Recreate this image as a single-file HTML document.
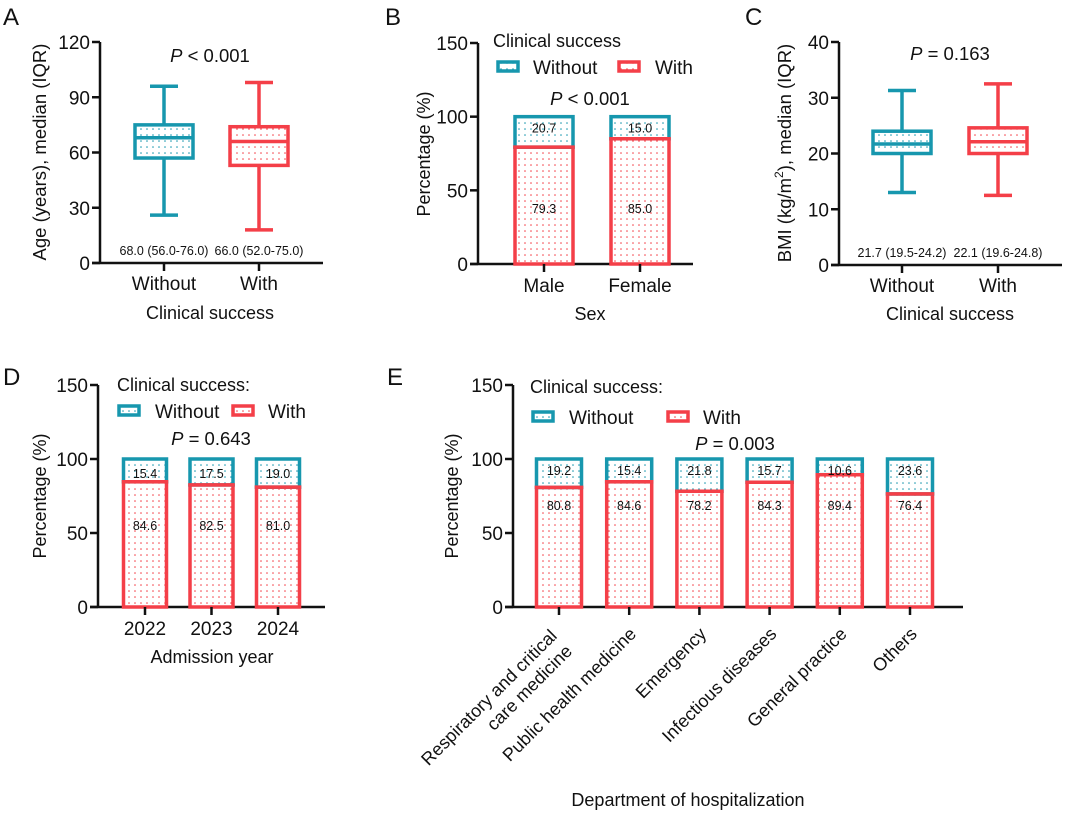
<!DOCTYPE html>
<html><head><meta charset="utf-8"><style>
body{margin:0;background:#fff;}
svg{display:block;font-family:"Liberation Sans",Arial,sans-serif;}
</style></head><body>
<svg id="fig" width="1065" height="813" viewBox="0 0 1065 813" xmlns="http://www.w3.org/2000/svg">
<defs>
<pattern id="dotT" width="6" height="6" patternUnits="userSpaceOnUse"><rect width="6" height="6" fill="#fff"/><circle cx="3" cy="3" r="0.8" fill="#1797ae"/></pattern>
<pattern id="dotR" width="6" height="6" patternUnits="userSpaceOnUse"><rect width="6" height="6" fill="#fff"/><circle cx="3" cy="3" r="0.8" fill="#f43f48"/></pattern>
</defs>
</svg>
<script>
// Panel A data
const aGroups=["Without","With"];
const aMin=[26,18],aQ1=[57,53],aMed=[68,66],aQ3=[75,74],aMax=[96,98];
const aLabels=["68.0 (56.0-76.0)","66.0 (52.0-75.0)"];
const aTicks=[0,30,60,90,120];
// Panel C data
const cGroups=["Without","With"];
const cMin=[13,12.5],cQ1=[20,20],cMed=[21.7,22.1],cQ3=[24,24.6],cMax=[31.3,32.5];
const cLabels=["21.7 (19.5-24.2)","22.1 (19.6-24.8)"];
const cTicks=[0,10,20,30,40];
// Panel B data
const bCats=["Male","Female"];
const bWith=[79.3,85.0];
const bWithout=[20.7,15.0];
// Panel D data
const dCats=["2022","2023","2024"];
const dWith=[84.6,82.5,81.0];
const dWithout=[15.4,17.5,19.0];
// Panel E data
const eCats=[["Respiratory and critical","care medicine"],["Public health medicine"],["Emergency"],["Infectious diseases"],["General practice"],["Others"]];
const eWith=[80.8,84.6,78.2,84.3,89.4,76.4];
const eWithout=[19.2,15.4,21.8,15.7,10.6,23.6];
const pctTicks=[0,50,100,150];

const T="#1797ae",R="#f43f48";
const svg=document.getElementById('fig');
const NS="http://www.w3.org/2000/svg";
function el(tag,attrs,parent){const e=document.createElementNS(NS,tag);for(const k in attrs)e.setAttribute(k,attrs[k]);(parent||svg).appendChild(e);return e;}
function txt(s,x,y,size,anchor,parent,extra){const t=el('text',Object.assign({x:x,y:y,'font-size':size,'text-anchor':anchor||'middle',fill:'#111'},extra||{}),parent);t.textContent=s;return t;}

function axes(g,x0,x1,y0,yTop,ticks,maxV){
  const ys=v=>y0-(v/maxV)*(y0-yTop);
  const ax=el('g',{},g);
  
  
  el('line',{x1:x0,y1:y0+1,x2:x0,y2:yTop,stroke:'#111','stroke-width':2.5},ax);
  el('line',{x1:x0-8,y1:y0,x2:x1,y2:y0,stroke:'#111','stroke-width':2.5},ax);
  ticks.forEach(v=>{
    el('line',{x1:x0-8,y1:ys(v),x2:x0,y2:ys(v),stroke:'#111','stroke-width':2.5},ax);
    const t=txt(String(v),x0-10,ys(v)+7,19,'end',ax);
    
    
  });
  return ys;
}
function panelLetter(s,x,y){const t=txt(s,x,y,24,'start');}
function ytitle(s,x,y,g,sz){const t=txt(s,x,y,sz||17,'middle',g,{transform:`rotate(-90 ${x} ${y})`});return t;}
function xtitle(s,x,y,g){const t=txt(s,x,y,18,'middle',g);}
function pval(op,val,x,y,g){const t=el('text',{x:x,y:y,'font-size':18.5,'text-anchor':'middle',fill:'#111'},g);t.innerHTML=`<tspan font-style="italic">P</tspan> ${op} ${val}`;}

function boxPanel(name,groups,mn,q1,md,q3,mx,labels,ticks,cfg){
  const g=el('g',{});
  
  
  const ys=axes(g,cfg.x0,cfg.x1,cfg.y0,cfg.yTop,ticks,ticks[ticks.length-1]);
  groups.forEach((gr,i)=>{
    const cx=cfg.xs[i],col=i==0?T:R,pat=i==0?'url(#dotT)':'url(#dotR)',hw=29,cw=14;
    const b=el('g',{},g);
    
    
    el('line',{x1:cx,y1:ys(mx[i]),x2:cx,y2:ys(q3[i]),stroke:col,'stroke-width':3.5},b);
    el('line',{x1:cx,y1:ys(q1[i]),x2:cx,y2:ys(mn[i]),stroke:col,'stroke-width':3.5},b);
    el('line',{x1:cx-cw,y1:ys(mx[i]),x2:cx+cw,y2:ys(mx[i]),stroke:col,'stroke-width':3.5},b);
    el('line',{x1:cx-cw,y1:ys(mn[i]),x2:cx+cw,y2:ys(mn[i]),stroke:col,'stroke-width':3.5},b);
    el('rect',{x:cx-hw,y:ys(q3[i]),width:hw*2,height:ys(q1[i])-ys(q3[i]),fill:pat,stroke:col,'stroke-width':3.5},b);
    el('line',{x1:cx-hw,y1:ys(md[i]),x2:cx+hw,y2:ys(md[i]),stroke:col,'stroke-width':3.5},b);
    el('line',{x1:cx,y1:cfg.y0,x2:cx,y2:cfg.y0+8,stroke:'#111','stroke-width':2.5},g);
    const tl=txt(gr,cx,cfg.y0+27,19,'middle',g);
    
    
    const ml=txt(labels[i],cx,cfg.y0-8,12.5,'middle',g);
    
    
  });
  return g;
}

function stackPanel(name,cats,w,wo,cfg){
  const g=el('g',{});
  
  
  const ys=axes(g,cfg.x0,cfg.x1,cfg.y0,cfg.yTop,pctTicks,150);
  cats.forEach((c,i)=>{
    const cx=cfg.x0+cfg.first+i*cfg.step,hw=cfg.bw/2;
    const r1=el('rect',{x:cx-hw,y:ys(w[i]),width:cfg.bw,height:ys(0)-ys(w[i]),fill:'url(#dotR)',stroke:R,'stroke-width':3.5},g);
    
    
    const r2=el('rect',{x:cx-hw,y:ys(w[i]+wo[i]),width:cfg.bw,height:ys(w[i])-ys(w[i]+wo[i]),fill:'url(#dotT)',stroke:T,'stroke-width':3.5},g);
    
    
    el('line',{x1:cx-hw-1.75,y1:ys(w[i]),x2:cx+hw+1.75,y2:ys(w[i]),stroke:R,'stroke-width':3.5},g);
    const l1=txt(wo[i].toFixed(1),cx,ys(100)+cfg.woOff,12.5,'middle',g);
    
    
    const l2=txt(w[i].toFixed(1),cx,cfg.wLabY,12.5,'middle',g);
    
    
    el('line',{x1:cx,y1:cfg.y0,x2:cx,y2:cfg.y0+8,stroke:'#111','stroke-width':2.5},g);
    if(cfg.rot){
      const lines=Array.isArray(c)?c:[c];
      const ex=cx+(lines.length>1?-1:8),ey=cfg.y0+(lines.length>1?30:28);
      const t=el('text',{x:ex,y:ey,'font-size':18,'text-anchor':'end',fill:'#111',transform:`rotate(-45 ${ex} ${ey})`},g);
      
      
      lines.forEach((ln,k)=>{const s=el('tspan',{x:ex,dy:k?'1.2em':'0'},t);s.textContent=ln;});
    } else {
      const t=txt(c,cx,cfg.y0+28,19,'middle',g);
      
      
    }
  });
  const L=cfg.leg;
  const lg=el('g',{},g);
  
  
  txt(L.title,L.tx,L.ty,18,'start',lg);
  const e1=el('g',{},lg);
  
  
  el('rect',{x:L.s1,y:L.sy,width:20,height:9,fill:'url(#dotT)',stroke:T,'stroke-width':3.5},e1);
  txt('Without',L.w1,L.sy+12,19,'start',e1);
  const e2=el('g',{},lg);
  
  
  el('rect',{x:L.s2,y:L.sy,width:20,height:9,fill:'url(#dotR)',stroke:R,'stroke-width':3.5},e2);
  txt('With',L.w2,L.sy+12,19,'start',e2);
  return g;
}

panelLetter('A',3,25);panelLetter('B',385,25);panelLetter('C',745,25);panelLetter('D',3,385);panelLetter('E',387,385);

const gA=boxPanel('panel-a-age',aGroups,aMin,aQ1,aMed,aQ3,aMax,aLabels,aTicks,{x0:100,x1:323,y0:263,yTop:42,xs:[164,259]});
ytitle('Age (years), median (IQR)',46,152,gA,18.5);xtitle('Clinical success',210,319,gA);pval('<','0.001',210,62,gA);

const gC=boxPanel('panel-c-bmi',cGroups,cMin,cQ1,cMed,cQ3,cMax,cLabels,cTicks,{x0:839,x1:1062,y0:265,yTop:42,xs:[902,998]});
const yc=el('text',{x:791,y:153,'font-size':18.5,'text-anchor':'middle',fill:'#111',transform:'rotate(-90 791 153)'},gC);
yc.innerHTML='BMI (kg/m<tspan dy="-8" font-size="12">2</tspan><tspan dy="8">), median (IQR)</tspan>';


xtitle('Clinical success',950,320,gC);pval('=','0.163',950,60,gC);

const gB=stackPanel('panel-b-sex',bCats,bWith,bWithout,{x0:478,x1:693,y0:264,yTop:43,first:66,step:96,bw:58,woOff:16,wLabY:213,leg:{title:'Clinical success',tx:493,ty:47,s1:498,s2:619,sy:62,w1:533,w2:655}});
ytitle('Percentage (%)',430,154,gB,18);xtitle('Sex',590,320,gB);pval('<','0.001',590,105,gB);

const gD=stackPanel('panel-d-year',dCats,dWith,dWithout,{x0:98,x1:325,y0:607,yTop:385,first:47,step:66.5,bw:43,woOff:19,wLabY:530,leg:{title:'Clinical success:',tx:117,ty:391,s1:119,s2:233,sy:406,w1:155,w2:268}});
ytitle('Percentage (%)',46,496,gD,18);xtitle('Admission year',212,663,gD);pval('=','0.643',211,445,gD);

const gE=stackPanel('panel-e-department',eCats,eWith,eWithout,{x0:513,x1:963,y0:607,yTop:385,first:46,step:70.2,bw:45,woOff:16,wLabY:510,rot:true,leg:{title:'Clinical success:',tx:530,ty:393,s1:533,s2:668,sy:412,w1:569,w2:703}});
ytitle('Percentage (%)',458,496,gE,18);xtitle('Department of hospitalization',688,806,gE);pval('=','0.003',735,450,gE);
</script>
</body></html>
